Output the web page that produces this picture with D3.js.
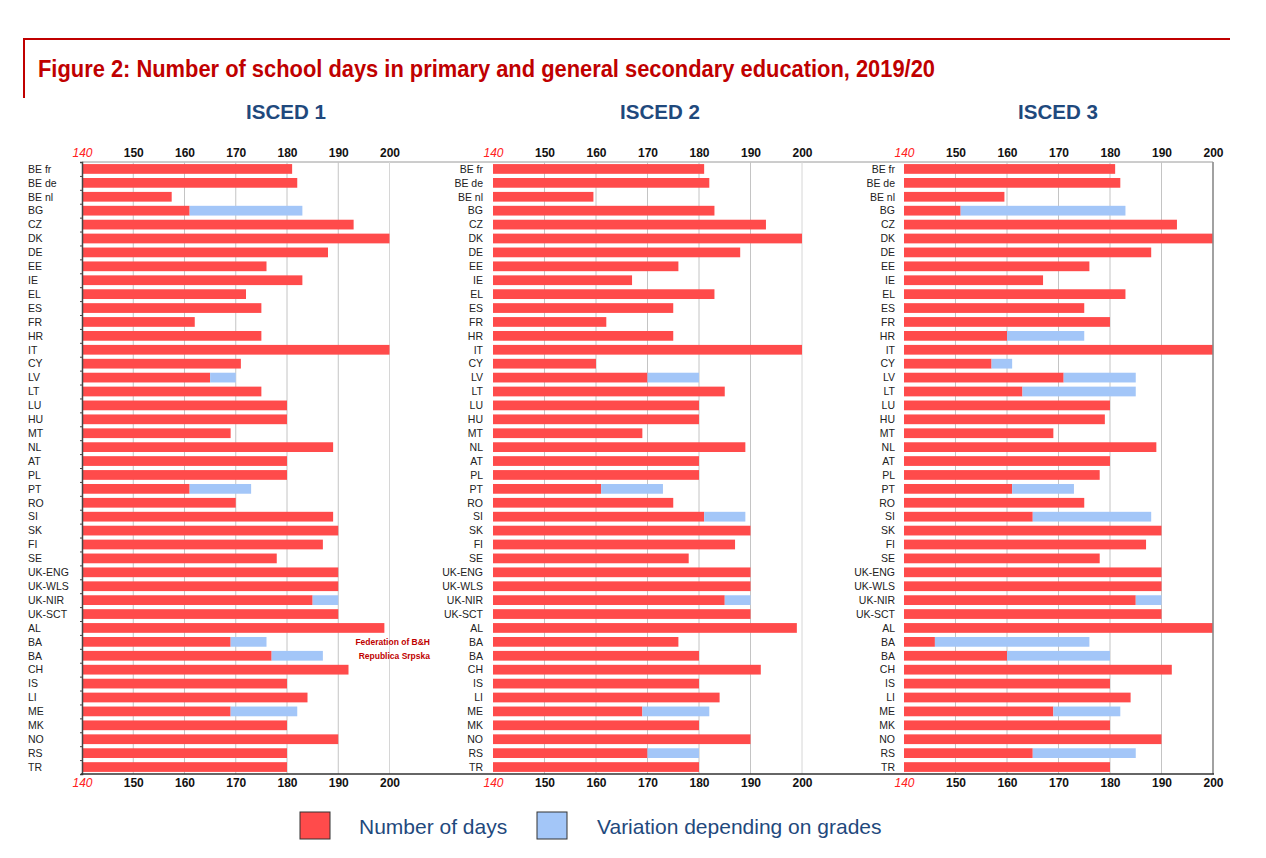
<!DOCTYPE html>
<html>
<head>
<meta charset="utf-8">
<script src="https://cdn.jsdelivr.net/npm/d3@7"></script>
<style>
  html, body { margin: 0; padding: 0; background: #fff; }
  svg { display: block; }
  text { font-family: "Liberation Sans", Arial, sans-serif; }
</style>
</head>
<body>
<svg id="chart" width="1266" height="858"></svg>
<script>
const categories = ["BE fr","BE de","BE nl","BG","CZ","DK","DE","EE","IE","EL","ES","FR","HR","IT","CY","LV","LT","LU","HU","MT","NL","AT","PL","PT","RO","SI","SK","FI","SE","UK-ENG","UK-WLS","UK-NIR","UK-SCT","AL","BA","BA","CH","IS","LI","ME","MK","NO","RS","TR"];

const tickValues = [140,150,160,170,180,190,200];
const panelTitles = ["ISCED 1","ISCED 2","ISCED 3"];

// Number of days (minimum when variation exists)
const isced1Days = [181,182,157.5,161,193,200,188,176,183,172,175,162,175,200,171,165,175,180,180,169,189,180,180,161,170,189,190,187,178,190,190,185,190,199,169,177,192,180,184,169,180,190,180,180];
const isced2Days = [181,182,159.5,183,193,200,188,176,167,183,175,162,175,200,160,170,185,180,180,169,189,180,180,161,175,181,190,187,178,190,190,185,190,199,176,180,192,180,184,169,180,190,170,180];
const isced3Days = [181,182,159.5,151,193,200,188,176,167,183,175,180,160,200,157,171,163,180,179,169,189,180,178,161,175,165,190,187,178,190,190,185,190,200,146,160,192,180,184,169,180,190,165,180];

// Upper end of variation depending on grades (null = no variation)
const isced1Max = [null,null,null,183,null,null,null,null,null,null,null,
                   null,null,null,null,170,null,null,null,null,null,null,
                   null,173,null,null,null,null,null,null,null,190,null,
                   null,176,187,null,null,null,182,null,null,null,null];
const isced2Max = [null,null,null,null,null,null,null,null,null,null,null,
                   null,null,null,null,180,null,null,null,null,null,null,
                   null,173,null,189,null,null,null,null,null,190,null,
                   null,null,null,null,null,null,182,null,null,180,null];
const isced3Max = [null,null,null,183,null,null,null,null,null,null,null,
                   null,175,null,161,185,185,null,null,null,null,null,
                   null,173,null,188,null,null,null,null,null,190,null,
                   null,176,180,null,null,null,182,null,null,185,null];

const legendLabels = ["Number of days","Variation depending on grades"];
const noteLabels = ["Federation of B&H","Republica Srpska"];

const RED = "#ff4b4b", BLUE = "#a3c6f8", TITLE_RED = "#c00000", NAVY = "#1f497d";

const svg = d3.select("#chart");

// Frame and title
svg.append("line").attr("x1",24).attr("x2",1230).attr("y1",39).attr("y2",39)
  .attr("stroke",TITLE_RED).attr("stroke-width",2);
svg.append("line").attr("x1",24).attr("x2",24).attr("y1",38).attr("y2",98)
  .attr("stroke",TITLE_RED).attr("stroke-width",2);
svg.append("text").attr("x",38).attr("y",77)
  .attr("font-size",23).attr("font-weight","bold").attr("fill",TITLE_RED)
  .attr("textLength",897).attr("lengthAdjust","spacingAndGlyphs")
  .text("Figure 2: Number of school days in primary and general secondary education, 2019/20");

const plotTop = 162, plotBottom = 774;
const y = d3.scaleBand().domain(d3.range(categories.length)).range([plotTop,plotBottom])
  .paddingInner(0.3).paddingOuter(0.15);

const panels = [
  {left:82,  right:389.5, days:isced1Days, max:isced1Max, labelX:28,  anchor:"start", head:286},
  {left:493, right:802,   days:isced2Days, max:isced2Max, labelX:483, anchor:"end",   head:660},
  {left:904, right:1213,  days:isced3Days, max:isced3Max, labelX:895, anchor:"end",   head:1058}
];

// top gray line
svg.append("line").attr("x1",82).attr("x2",1213).attr("y1",plotTop).attr("y2",plotTop)
  .attr("stroke","#9a9a9a").attr("stroke-width",1);

panels.forEach((p,pi) => {
  const x = d3.scaleLinear().domain([140,200]).range([p.left,p.right]);
  const g = svg.append("g");

  // heading
  g.append("text").attr("x",p.head).attr("y",119).attr("text-anchor","middle")
    .attr("font-size",21).attr("font-weight","bold").attr("fill",NAVY)
    .attr("textLength",80).attr("lengthAdjust","spacingAndGlyphs")
    .text(panelTitles[pi]);

  // gridlines
  g.selectAll("line.grid").data(tickValues.slice(1)).join("line")
    .attr("class","grid")
    .attr("x1",d=>x(d)).attr("x2",d=>x(d)).attr("y1",plotTop).attr("y2",plotBottom)
    .attr("stroke",d => d===200 ? "#d6d6d6" : "#c4c4c4").attr("stroke-width",1);

  // red bars
  g.selectAll("rect.days").data(p.days).join("rect")
    .attr("class","days")
    .attr("x",x(140)).attr("y",(d,i)=>y(i))
    .attr("width",d=>x(d)-x(140)).attr("height",y.bandwidth())
    .attr("fill",RED);

  // blue variation bars
  const vars = p.max.map((m,i)=>({i, lo:p.days[i], hi:m})).filter(d=>d.hi!==null);
  g.selectAll("rect.var").data(vars).join("rect")
    .attr("class","var")
    .attr("x",d=>x(d.lo)).attr("y",d=>y(d.i))
    .attr("width",d=>x(d.hi)-x(d.lo)).attr("height",y.bandwidth())
    .attr("fill",BLUE);

  // category labels
  g.selectAll("text.cat").data(categories).join("text")
    .attr("class","cat")
    .attr("x",p.labelX).attr("y",(d,i)=>y(i)+y.bandwidth()/2)
    .attr("dy","0.36em").attr("text-anchor",p.anchor)
    .attr("font-size",10.5).attr("fill","#222")
    .text(d=>d);

  // axes
  const fmt = d => d;
  const axTop = g.append("g").attr("transform",`translate(0,${plotTop})`)
    .call(d3.axisTop(x).tickValues(tickValues).tickSize(0).tickPadding(5).tickFormat(fmt));
  const axBot = g.append("g").attr("transform",`translate(0,${plotBottom})`)
    .call(d3.axisBottom(x).tickValues(tickValues).tickSize(0).tickPadding(4).tickFormat(fmt));
  [axTop,axBot].forEach(a => {
    a.select(".domain").remove();
    a.selectAll("text")
      .attr("font-family","'Liberation Sans', Arial, sans-serif")
      .attr("font-size",12)
      .attr("font-weight",d=>d===140?"normal":"bold")
      .attr("font-style",d=>d===140?"italic":"normal")
      .attr("fill",d=>d===140?"#ff2020":"#111");
  });

  if (pi===0) {
    // left axis with small ticks at row boundaries
    const rowScale = d3.scaleLinear().domain([0,categories.length]).range([plotTop, plotBottom]);
    const ax = g.append("g").attr("transform",`translate(${p.left},0)`)
      .call(d3.axisLeft(rowScale).tickValues(d3.range(categories.length+1)).tickSize(2).tickFormat(""));
    ax.select(".domain").attr("stroke","#444").attr("stroke-width",1.5);
    ax.selectAll(".tick line").attr("stroke","#444");
    // notes
    noteLabels.forEach((t,k)=>{
      g.append("text").attr("x",430).attr("y",y(34+k)+y.bandwidth()/2).attr("dy","0.35em")
        .attr("text-anchor","end").attr("font-size",8.5).attr("font-weight","bold")
        .attr("fill",TITLE_RED).text(t);
    });
  }
  if (pi===2) {
    g.append("line").attr("x1",x(200)).attr("x2",x(200)).attr("y1",plotTop).attr("y2",plotBottom)
      .attr("stroke","#888").attr("stroke-width",1.5);
  }
});

svg.append("line").attr("x1",81).attr("x2",1214).attr("y1",plotBottom).attr("y2",plotBottom)
  .attr("stroke","#333").attr("stroke-width",1.5);

// legend
const legend = svg.append("g");
const legItems = [{x:300, c:RED, t:legendLabels[0], tx:359},{x:537, c:BLUE, t:legendLabels[1], tx:597}];
legItems.forEach(d=>{
  legend.append("rect").attr("x",d.x).attr("y",812).attr("width",30).attr("height",27)
    .attr("fill",d.c).attr("stroke","#333").attr("stroke-width",1);
  legend.append("text").attr("x",d.tx).attr("y",826).attr("dy","0.36em")
    .attr("font-size",21).attr("fill",NAVY).text(d.t);
});
</script>
</body>
</html>
